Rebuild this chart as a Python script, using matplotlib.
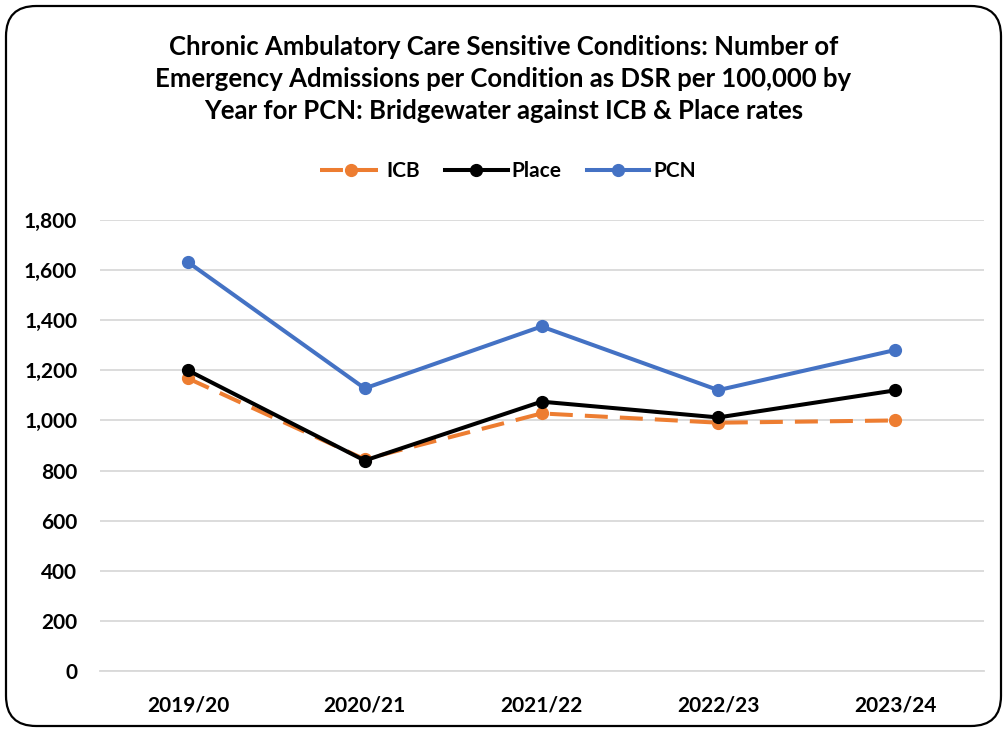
import matplotlib
matplotlib.use("Agg")
import matplotlib.pyplot as plt
from matplotlib.patches import FancyBboxPatch
from matplotlib.ticker import FuncFormatter, MultipleLocator

years = ["2019/20", "2020/21", "2021/22", "2022/23", "2023/24"]
icb = [1168, 845, 1028, 991, 1000]
place = [1200, 840, 1075, 1012, 1120]
pcn = [1632, 1128, 1375, 1121, 1281]

title = ("Chronic Ambulatory Care Sensitive Conditions: Number of\n"
         "Emergency Admissions per Condition as DSR per 100,000 by\n"
         "Year for PCN: Bridgewater against ICB & Place rates")

plt.rcParams['font.family'] = ['Lato', 'DejaVu Sans']
plt.rcParams['font.weight'] = 'bold'

W, H = 1007, 732
fig = plt.figure(figsize=(W / 100, H / 100), dpi=100)
ax = fig.add_axes([99.5 / W, 1 - 671 / H, (983.5 - 99.5) / W, (671 - 220) / H])

x = list(range(len(years)))
ax.plot(x, icb, color="#ED7D31", lw=2.9, linestyle=(0, (5.7, 3)), marker="o",
        markersize=8.5, label="ICB", zorder=3)
ax.plot(x, place, color="#000000", lw=2.9, marker="o", markersize=8.5,
        label="Place", zorder=4)
ax.plot(x, pcn, color="#4472C4", lw=2.9, marker="o", markersize=8.5,
        label="PCN", zorder=5)

ax.set_xlim(-0.5, len(years) - 0.5)
ax.set_ylim(0, 1800)
ax.yaxis.set_major_locator(MultipleLocator(200))
ax.yaxis.set_major_formatter(FuncFormatter(lambda v, p: f"{int(v):,}"))
ax.set_xticks(x)
ax.set_xticklabels(years)
ax.grid(axis="y", color="#D9D9D9", lw=1.3)
ax.set_axisbelow(True)
for s in ["top", "right", "left"]:
    ax.spines[s].set_visible(False)
ax.spines["bottom"].set_color("#D9D9D9")
ax.spines["bottom"].set_linewidth(1.3)
ax.tick_params(axis="both", length=0, colors="#000000")
ax.tick_params(axis="y", pad=16, labelsize=15)
ax.tick_params(axis="x", pad=18, labelsize=15)
for lab in ax.get_xticklabels() + ax.get_yticklabels():
    lab.set_fontweight("bold")

fig.text(0.5, 1 - 79 / H, title, ha="center", va="center", fontsize=18.5,
         fontweight="bold", linespacing=1.4)

leg = fig.legend(loc="center", bbox_to_anchor=(508 / W, 1 - 171 / H), ncol=3,
                 frameon=False, fontsize=15, handlelength=3.0,
                 columnspacing=1.2, handletextpad=0.2)
for t in leg.get_texts():
    t.set_fontweight("bold")

border = FancyBboxPatch((6 / W, 6 / H), 1 - 12 / W, 1 - 12 / H,
                        boxstyle="round,pad=0,rounding_size=0.03",
                        transform=fig.transFigure, fill=False,
                        edgecolor="#000000", lw=1.6, mutation_aspect=W / H)
fig.patches.append(border)

fig.savefig("out.png", dpi=100)
